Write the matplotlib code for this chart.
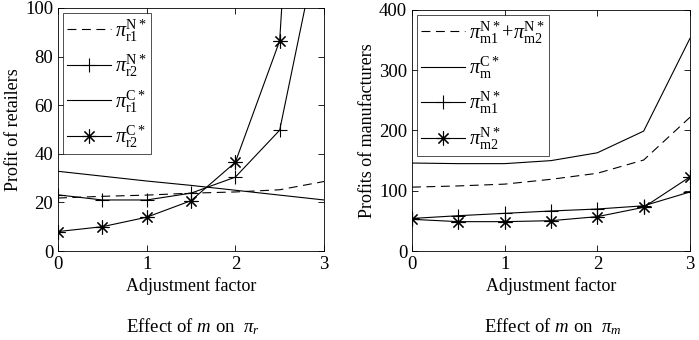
import numpy as np
import matplotlib.pyplot as plt

plt.rcParams['font.family'] = ['Liberation Serif', 'DejaVu Serif']
plt.rcParams['mathtext.fontset'] = 'custom'
plt.rcParams['mathtext.rm'] = 'Liberation Serif'
plt.rcParams['mathtext.it'] = 'Liberation Serif:italic'
plt.rcParams['mathtext.cal'] = 'Liberation Serif'

# adjustment factor
m = [0, 0.5, 1, 1.5, 2, 2.5, 3]

# retailers
r1_N = [21.8, 22.5, 23.0, 23.8, 24.3, 25.2, 28.6]
r2_N = [23.1, 21.0, 21.0, 23.8, 30.4, 49.7, 138]
r1_C = [32.8, 30.8, 28.8, 27.0, 25.0, 23.0, 21.0]
r2_C = [8.0, 10.0, 13.9, 20.7, 36.5, 86.5, 380]

# manufacturers
m_sum_N = [106, 108, 111, 119, 129, 151, 222]
m_C = [146, 145, 145, 150, 163, 199, 353]
m1_N = [54, 58.6, 62.5, 66.4, 69.7, 75, 98]
m2_N = [52.6, 48.7, 48.7, 50.3, 57, 72.5, 123]

star = (8, 2, 0)
lw = 0.8
fs = 13

fig = plt.figure(figsize=(6.99, 3.40), dpi=100)
ax1 = fig.add_axes([58/699, 89/340, 266/699, 243/340])
ax2 = fig.add_axes([412/699, 89/340, 278/699, 241/340])

ax1.plot(m, r1_N, 'k', lw=lw, dashes=(8, 5), label=r'$\pi_{\rm r1}^{\rm N*}$')
ax1.plot(m, r2_N, 'k', lw=lw, marker='+', ms=10, mew=0.8, label=r'$\pi_{\rm r2}^{\rm N*}$')
ax1.plot(m, r1_C, 'k', lw=lw, label=r'$\pi_{\rm r1}^{\rm C*}$')
ax1.plot(m, r2_C, 'k', lw=lw, marker=star, ms=10, mew=0.8, label=r'$\pi_{\rm r2}^{\rm C*}$')
ax1.set_ylim(0, 100)
ax1.set_yticks([0, 20, 40, 60, 80, 100])
ax1.set_ylabel('Profit of retailers', fontsize=fs, labelpad=2)

ax2.plot(m, m_sum_N, 'k', lw=lw, dashes=(8, 5), label=r'$\pi_{\rm m1}^{\rm N*}$+$\pi_{\rm m2}^{\rm N*}$')
ax2.plot(m, m_C, 'k', lw=lw, label=r'$\pi_{\rm m}^{\rm C*}$')
ax2.plot(m, m1_N, 'k', lw=lw, marker='+', ms=10, mew=0.8, label=r'$\pi_{\rm m1}^{\rm N*}$')
ax2.plot(m, m2_N, 'k', lw=lw, marker=star, ms=10, mew=0.8, label=r'$\pi_{\rm m2}^{\rm N*}$')
ax2.set_ylim(0, 400)
ax2.set_yticks([0, 100, 200, 300, 400])
ax2.set_ylabel('Profits of manufacturers', fontsize=fs, labelpad=2)

for ax in (ax1, ax2):
    ax.set_xlim(0, 3)
    ax.set_xticks([0, 1, 2, 3])
    ax.tick_params(direction='in', top=True, right=True, labelsize=fs + 0.5, length=4, width=0.6)
    for s in ax.spines.values():
        s.set_linewidth(0.6)
    ax.set_xlabel('Adjustment factor', fontsize=fs, labelpad=3)
    leg = ax.legend(loc='upper left', fontsize=14.5, frameon=True, fancybox=False,
                    edgecolor='k', handlelength=2.2, handletextpad=0.2,
                    labelspacing=0.45, borderaxespad=0.25, borderpad=0.2)
    leg.get_frame().set_linewidth(0.6)

fig.text(193/699, 1 - 327/340, r'Effect of $m$ on  $\pi_r$', ha='center', va='center', fontsize=fs + 0.5)
fig.text(553/699, 1 - 327/340, r'Effect of $m$ on  $\pi_m$', ha='center', va='center', fontsize=fs + 0.5)

fig.savefig('out.png', dpi=100)
